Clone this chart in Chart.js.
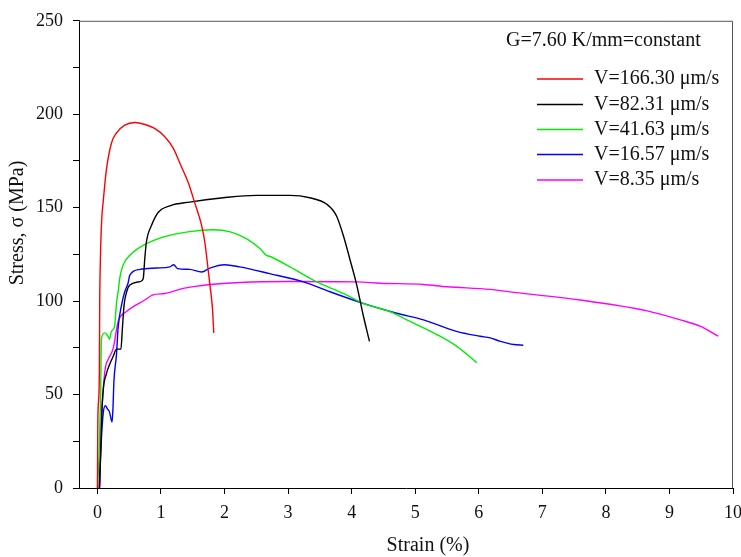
<!DOCTYPE html>
<html>
<head>
<meta charset="utf-8">
<script src="https://cdn.jsdelivr.net/npm/chart.js@4.4.1/dist/chart.umd.min.js"></script>
<style>
  html, body { margin: 0; padding: 0; background: #fff; }
  #wrap { width: 741px; height: 557px; }
</style>
</head>
<body>
<div id="wrap"><canvas id="myChart"></canvas></div>
<script>
// tensile curves, strain in %, stress in MPa
const redStrain = [0, 0.005, 0.01, 0.03, 0.036, 0.045, 0.052, 0.07, 0.09, 0.14, 0.22, 0.30, 0.43, 0.59, 0.75, 0.90, 1.06, 1.19, 1.32, 1.43, 1.53, 1.64, 1.69, 1.74, 1.77, 1.81, 1.83];
const redStress = [0, 30, 42, 60, 100, 120, 130, 145, 153, 170, 184.5, 190, 194.2, 195.6, 194.5, 192.4, 188, 182, 172, 163.3, 152.7, 140.4, 131.5, 117.4, 108.6, 96, 83];

const blackStrain = [0.03, 0.06, 0.063, 0.09, 0.14, 0.19, 0.25, 0.30, 0.37, 0.39, 0.42, 0.46, 0.51, 0.67, 0.72, 0.745, 0.77, 0.85, 0.955, 1.14, 1.45, 1.98, 2.50, 3.03, 3.34, 3.61, 3.76, 3.87, 3.97, 4.08, 4.18, 4.28];
const blackStress = [0, 28, 34, 52, 61, 66, 70.6, 74.3, 74.3, 84, 98, 105, 108.6, 110.4, 112, 122.7, 131.5, 140.4, 147.4, 151, 153, 155.3, 156.6, 156.6, 155.3, 151.8, 145.7, 135, 122.7, 108.6, 92.7, 78.5];

const greenStrain = [0, 0.03, 0.05, 0.063, 0.115, 0.167, 0.19, 0.22, 0.27, 0.30, 0.33, 0.35, 0.40, 0.51, 0.72, 1.03, 1.45, 1.82, 2.08, 2.35, 2.56, 2.66, 2.71, 3.03, 3.45, 3.87, 4.18, 4.60, 4.92, 5.34, 5.65, 5.97];
const greenStress = [0, 20, 50, 80, 83, 81.2, 79.6, 83.8, 86.5, 99, 106, 112, 119, 124.5, 129.8, 134.2, 137.2, 138.2, 137.2, 133.3, 128, 124.5, 124, 118.3, 110.3, 104.1, 98.8, 94.4, 89.1, 82.1, 75.9, 67];

const blueStrain = [0.03, 0.036, 0.05, 0.09, 0.125, 0.157, 0.19, 0.23, 0.245, 0.26, 0.30, 0.325, 0.38, 0.43, 0.48, 0.51, 0.67, 0.93, 1.14, 1.20, 1.26, 1.45, 1.64, 1.77, 2.0, 2.24, 2.71, 3.24, 3.66, 4.18, 4.71, 5.13, 5.65, 6.02, 6.18, 6.34, 6.55, 6.70];
const blueStress = [0, 8, 18.6, 39.7, 44, 42.4, 40.6, 35.3, 43.2, 57.4, 71.5, 85.6, 98, 105, 109.4, 113.9, 117, 117.7, 118.3, 119.5, 117.4, 117, 115.6, 117.7, 119.5, 118.3, 114.7, 110.3, 105, 98.8, 93.5, 90, 83.8, 81.2, 80.3, 78.5, 76.8, 76.4];

const magentaStrain = [0.03, 0.04, 0.05, 0.09, 0.125, 0.17, 0.25, 0.325, 0.457, 0.745, 0.875, 1.06, 1.35, 1.77, 2.24, 3.03, 4.08, 4.45, 5.13, 5.50, 6.18, 6.55, 7.60, 8.65, 9.17, 9.49, 9.77];
const magentaStress = [0, 1, 22, 52, 64.4, 68.9, 75, 89, 94.4, 100.6, 103.3, 104.1, 106.8, 108.9, 110, 110.5, 110.3, 109.6, 108.9, 107.7, 106.3, 104.7, 100.6, 94.8, 90, 86.5, 81.2];

const seriesLabels = ["V=166.30 \u03bcm/s", "V=82.31 \u03bcm/s", "V=41.63 \u03bcm/s", "V=16.57 \u03bcm/s", "V=8.35 \u03bcm/s"];
const seriesColors = ["#ff0000", "#000000", "#00ee00", "#0000ff", "#ff00ff"];
const legendTitle = "G=7.60 K/mm=constant";

const xTicks = [0, 1, 2, 3, 4, 5, 6, 7, 8, 9, 10];

const serif = "'Liberation Serif', 'Times New Roman', serif";

function pairs(xs, ys) {
  return xs.map((x, i) => ({ x: x, y: ys[i] }));
}

const curves = [
  pairs(redStrain, redStress),
  pairs(blackStrain, blackStress),
  pairs(greenStrain, greenStress),
  pairs(blueStrain, blueStress),
  pairs(magentaStrain, magentaStress),
];

// box frame on top/right, axis titles and the legend block inside the plot
const decorations = {
  id: "decorations",
  afterDraw(chart) {
    const { ctx, chartArea } = chart;
    ctx.save();
    ctx.strokeStyle = "#555";
    ctx.lineWidth = 1;
    ctx.beginPath();
    ctx.moveTo(chartArea.left, chartArea.top + 0.5);
    ctx.lineTo(chartArea.right - 0.5, chartArea.top + 0.5);
    ctx.lineTo(chartArea.right - 0.5, chartArea.bottom);
    ctx.stroke();

    ctx.fillStyle = "#111";
    ctx.font = "20px " + serif;
    ctx.textAlign = "center";
    ctx.textBaseline = "middle";
    ctx.fillText("Strain (%)", 428, 546);

    ctx.save();
    ctx.translate(18, 223);
    ctx.rotate(-Math.PI / 2);
    ctx.fillText("Stress, \u03c3 (MPa)", 0, 0);
    ctx.restore();

    ctx.textAlign = "left";
    ctx.fillText(legendTitle, 506, 41);
    const rows = [79, 104.5, 129.5, 154.5, 180];
    chart.data.datasets.forEach((ds, i) => {
      const y = rows[i];
      ctx.strokeStyle = ds.borderColor;
      ctx.lineWidth = 1.4;
      ctx.beginPath();
      ctx.moveTo(537, y);
      ctx.lineTo(583, y);
      ctx.stroke();
      ctx.fillText(ds.label, 594, y);
    });
    ctx.restore();
  },
};

const ctx = document.getElementById("myChart");

const stressChart = new Chart(ctx, {
  type: "line",
  data: {
    datasets: curves.map((pts, i) => ({
      label: seriesLabels[i],
      data: pts,
      borderColor: seriesColors[i],
      backgroundColor: seriesColors[i],
      borderWidth: 1.4,
      pointRadius: 0,
      cubicInterpolationMode: "monotone",
      fill: false,
    })),
  },
  options: {
    responsive: true,
    maintainAspectRatio: false,
    animation: false,
    layout: { padding: { top: 16, right: 8, left: 0, bottom: 0 } },
    plugins: {
      legend: { display: false },
      tooltip: { enabled: false },
    },
    scales: {
      x: {
        type: "linear",
        min: -0.29,
        max: 10,
        afterBuildTicks: (scale) => {
          scale.ticks = xTicks.map((v) => ({ value: v }));
        },
        afterFit: (scale) => {
          scale.height = 69;
          scale.paddingLeft = 0;
          scale.paddingRight = 0;
        },
        grid: { drawOnChartArea: false, tickLength: 6, color: "#000" },
        border: { color: "#000", width: 1 },
        ticks: {
          color: "#111",
          padding: 8,
          maxRotation: 0,
          font: { family: serif, size: 18 },
        },
      },
      y: {
        type: "linear",
        min: 0,
        max: 250,
        afterFit: (scale) => {
          scale.width = 79;
        },
        grid: { drawOnChartArea: false, tickLength: 6, color: "#000" },
        border: { color: "#000", width: 1 },
        ticks: {
          stepSize: 25,
          color: "#111",
          padding: 10,
          font: { family: serif, size: 18 },
          callback: (v) => (v % 50 === 0 ? v : ""),
        },
      },
    },
  },
  plugins: [decorations],
});
</script>
</body>
</html>
